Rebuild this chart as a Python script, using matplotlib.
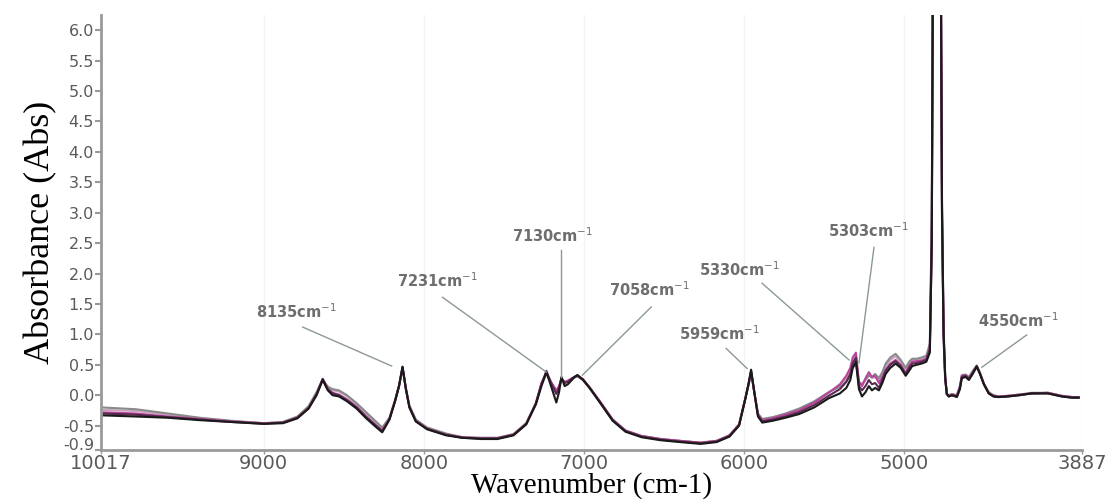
import matplotlib
matplotlib.use("Agg")
import matplotlib.pyplot as plt
import matplotlib.transforms as mtransforms

# wavenumber grid (cm-1)
wavenumber = [
    10017, 9800, 9600, 9400, 9200, 9000, 8880, 8790, 8720, 8670,
    8632, 8600, 8570, 8530, 8480, 8420, 8360, 8300, 8260, 8215,
    8180, 8155, 8133, 8112, 8090, 8050, 7980, 7860, 7760, 7640,
    7540, 7440, 7360, 7300, 7265, 7234, 7205, 7172, 7155, 7140,
    7120, 7100, 7075, 7059, 7040, 7005, 6965, 6900, 6820, 6740,
    6640, 6520, 6400, 6270, 6170, 6090, 6030, 5990, 5970, 5955,
    5935, 5912, 5885, 5820, 5740, 5655, 5560, 5470, 5400, 5360,
    5335, 5320, 5300, 5281, 5262, 5240, 5219, 5200, 5180, 5156,
    5135, 5114, 5085, 5052, 5020, 4989, 4968, 4948, 4920, 4890,
    4860, 4838, 4826, 4818, 4770, 4762, 4752, 4742, 4732, 4720,
    4700, 4669, 4650, 4638, 4615, 4594, 4570, 4545, 4525, 4500,
    4470, 4440, 4407, 4350, 4280, 4201, 4100, 4014, 3950, 3908,
]

abs_black = [
    -0.33, -0.35, -0.37, -0.41, -0.44, -0.47, -0.46, -0.38, -0.22, 0.00,
    0.25, 0.08, 0.00, -0.02, -0.10, -0.22, -0.38, -0.52, -0.61, -0.40,
    -0.10, 0.15, 0.47, 0.10, -0.20, -0.43, -0.56, -0.66, -0.70, -0.72,
    -0.72, -0.66, -0.48, -0.15, 0.15, 0.38, 0.15, -0.12, 0.05, 0.30,
    0.15, 0.18, 0.25, 0.30, 0.33, 0.25, 0.12, -0.12, -0.42, -0.60,
    -0.69, -0.74, -0.77, -0.80, -0.77, -0.68, -0.50, -0.05, 0.20, 0.42,
    0.05, -0.35, -0.45, -0.42, -0.37, -0.31, -0.20, -0.05, 0.03, 0.12,
    0.25, 0.45, 0.55, 0.10, -0.02, 0.05, 0.15, 0.08, 0.12, 0.08,
    0.20, 0.35, 0.45, 0.52, 0.45, 0.32, 0.40, 0.48, 0.50, 0.52,
    0.55, 0.70, 2.50, 7.50, 7.50, 3.00, 1.00, 0.30, 0.02, -0.02,
    0.00, -0.03, 0.10, 0.28, 0.30, 0.25, 0.35, 0.47, 0.35, 0.18,
    0.03, -0.02, -0.03, -0.02, 0.00, 0.03, 0.03, -0.02, -0.04, -0.04,
]

abs_plum = [
    -0.30, -0.32, -0.36, -0.40, -0.44, -0.47, -0.45, -0.37, -0.21, 0.02,
    0.27, 0.10, 0.03, 0.00, -0.08, -0.20, -0.36, -0.50, -0.59, -0.40,
    -0.10, 0.15, 0.46, 0.10, -0.20, -0.43, -0.55, -0.65, -0.70, -0.71,
    -0.71, -0.65, -0.47, -0.14, 0.18, 0.40, 0.20, 0.02, 0.12, 0.28,
    0.20, 0.22, 0.27, 0.30, 0.33, 0.26, 0.13, -0.11, -0.41, -0.59,
    -0.68, -0.73, -0.76, -0.79, -0.76, -0.67, -0.49, -0.04, 0.20, 0.40,
    0.05, -0.33, -0.43, -0.40, -0.35, -0.28, -0.16, -0.01, 0.10, 0.22,
    0.35, 0.52, 0.62, 0.15, 0.08, 0.15, 0.25, 0.18, 0.20, 0.12,
    0.25, 0.40, 0.50, 0.56, 0.48, 0.35, 0.45, 0.52, 0.53, 0.55,
    0.58, 0.75, 2.60, 7.50, 7.50, 3.20, 1.10, 0.30, 0.02, -0.02,
    0.00, -0.02, 0.12, 0.30, 0.32, 0.27, 0.37, 0.48, 0.36, 0.18,
    0.03, -0.02, -0.03, -0.02, 0.00, 0.03, 0.03, -0.02, -0.04, -0.04,
]

abs_magenta = [
    -0.28, -0.30, -0.35, -0.39, -0.43, -0.46, -0.45, -0.37, -0.21, 0.02,
    0.26, 0.10, 0.04, 0.01, -0.07, -0.19, -0.35, -0.49, -0.58, -0.39,
    -0.09, 0.15, 0.45, 0.10, -0.19, -0.42, -0.55, -0.65, -0.69, -0.71,
    -0.71, -0.65, -0.47, -0.13, 0.20, 0.36, 0.22, 0.08, 0.15, 0.27,
    0.22, 0.24, 0.28, 0.30, 0.32, 0.26, 0.13, -0.10, -0.40, -0.58,
    -0.67, -0.72, -0.75, -0.78, -0.75, -0.66, -0.48, -0.04, 0.18, 0.38,
    0.05, -0.32, -0.41, -0.38, -0.32, -0.25, -0.12, 0.04, 0.18, 0.32,
    0.45, 0.62, 0.70, 0.22, 0.15, 0.28, 0.38, 0.30, 0.32, 0.20,
    0.30, 0.42, 0.52, 0.58, 0.50, 0.36, 0.48, 0.55, 0.56, 0.57,
    0.60, 0.78, 2.40, 7.50, 7.50, 3.10, 1.00, 0.28, 0.02, -0.01,
    0.01, -0.01, 0.14, 0.32, 0.33, 0.28, 0.37, 0.47, 0.36, 0.18,
    0.04, -0.01, -0.02, -0.01, 0.01, 0.03, 0.04, -0.01, -0.03, -0.03,
]

abs_gray = [
    -0.20, -0.23, -0.30, -0.37, -0.42, -0.46, -0.44, -0.35, -0.18, 0.05,
    0.26, 0.14, 0.10, 0.08, 0.00, -0.13, -0.28, -0.43, -0.53, -0.37,
    -0.08, 0.16, 0.45, 0.12, -0.17, -0.40, -0.53, -0.63, -0.69, -0.70,
    -0.70, -0.64, -0.46, -0.14, 0.18, 0.36, 0.20, 0.06, 0.14, 0.27,
    0.21, 0.23, 0.27, 0.29, 0.31, 0.25, 0.13, -0.10, -0.40, -0.58,
    -0.67, -0.72, -0.75, -0.78, -0.75, -0.66, -0.48, -0.05, 0.18, 0.38,
    0.06, -0.30, -0.39, -0.36, -0.30, -0.22, -0.10, 0.05, 0.14, 0.22,
    0.32, 0.45, 0.52, 0.22, 0.18, 0.25, 0.32, 0.30, 0.35, 0.28,
    0.38, 0.52, 0.62, 0.68, 0.58, 0.45, 0.55, 0.60, 0.60, 0.62,
    0.65, 0.85, 3.00, 7.50, 7.50, 2.80, 0.90, 0.25, 0.02, 0.00,
    0.02, 0.00, 0.15, 0.33, 0.34, 0.30, 0.40, 0.49, 0.37, 0.19,
    0.05, 0.00, -0.02, -0.01, 0.01, 0.04, 0.04, -0.01, -0.03, -0.03,
]

abs_light = [
    -0.24, -0.26, -0.32, -0.38, -0.43, -0.46, -0.44, -0.36, -0.19, 0.04,
    0.26, 0.13, 0.08, 0.06, -0.02, -0.15, -0.31, -0.46, -0.55, -0.38,
    -0.09, 0.15, 0.46, 0.11, -0.18, -0.41, -0.54, -0.64, -0.69, -0.70,
    -0.70, -0.64, -0.46, -0.13, 0.19, 0.37, 0.21, 0.05, 0.13, 0.28,
    0.20, 0.22, 0.27, 0.29, 0.32, 0.25, 0.13, -0.10, -0.40, -0.58,
    -0.67, -0.72, -0.75, -0.78, -0.75, -0.66, -0.48, -0.04, 0.19, 0.39,
    0.05, -0.31, -0.40, -0.37, -0.31, -0.23, -0.11, 0.05, 0.16, 0.27,
    0.40, 0.56, 0.64, 0.20, 0.16, 0.26, 0.35, 0.28, 0.30, 0.24,
    0.34, 0.48, 0.58, 0.64, 0.55, 0.42, 0.52, 0.58, 0.58, 0.60,
    0.62, 0.80, 2.80, 7.50, 7.50, 2.90, 0.95, 0.27, 0.02, 0.00,
    0.02, 0.00, 0.14, 0.32, 0.33, 0.29, 0.38, 0.48, 0.36, 0.18,
    0.04, -0.01, -0.02, -0.01, 0.01, 0.03, 0.04, -0.01, -0.03, -0.03,
]

x_ticks = [10017, 9000, 8000, 7000, 6000, 5000, 3887]
y_ticks = [-0.9, -0.5, 0.0, 0.5, 1.0, 1.5, 2.0, 2.5, 3.0, 3.5, 4.0, 4.5, 5.0, 5.5, 6.0]

peak_labels = ["8135", "7231", "7130", "7058", "5959", "5330", "5303", "4550"]
# (text x, text y, line start x, line start y, line end x, line end y) in data units
label_layout = [
    (8794, 1.38, 8757, 1.12, 8201, 0.48),
    (7914, 1.89, 7883, 1.61, 7234, 0.38),
    (7196, 2.63, 7140, 2.38, 7140, 0.30),
    (6591, 1.74, 6579, 1.45, 7009, 0.33),
    (6154, 1.02, 6111, 0.77, 5980, 0.44),
    (6030, 2.06, 5886, 1.84, 5343, 0.58),
    (5219, 2.71, 5187, 2.43, 5281, 0.53),
    (4282, 1.23, 4233, 0.99, 4513, 0.46),
]

fig = plt.figure(figsize=(11.14, 5.03), dpi=100)
ax = fig.add_axes([0.0907, 0.1054, 0.8806, 0.8648])

ax.grid(axis="x", color="#f3f3f3", lw=1)
ax.set_axisbelow(True)

series = [
    (abs_light, "#c9a3bf"),
    (abs_gray, "#8a8a8a"),
    (abs_magenta, "#b8449c"),
    (abs_plum, "#5b2a50"),
    (abs_black, "#1a1a1a"),
]
for vals, col in series:
    ax.plot(wavenumber, vals, color=col, lw=1.5, solid_joinstyle="round")

for lab, (tx, ty, sx, sy, ex, ey) in zip(peak_labels, label_layout):
    ax.plot([sx, ex], [sy, ey], color="#8c9898", lw=1)
    ax.text(tx, ty, lab + "cm$^{-1}$", ha="center", va="center",
            fontsize=10.5, fontweight="bold", color="#6e6e6e")

ax.set_xlim(10017, 3887)
ax.set_ylim(-0.9, 6.25)
ax.set_xticks(x_ticks)
ax.set_xticklabels([str(v) for v in x_ticks])
ax.set_yticks(y_ticks)
ax.set_yticklabels(["%.1f" % v for v in y_ticks])

for s in ["top", "right"]:
    ax.spines[s].set_visible(False)
for s in ["left", "bottom"]:
    ax.spines[s].set_color("#9a9a9a")
    ax.spines[s].set_linewidth(2)

ax.tick_params(axis="y", length=4, width=1.5, color="#9a9a9a",
               labelsize=11.5, labelcolor="#5a5a5a", pad=1)
ax.tick_params(axis="x", length=3, width=1, color="#9a9a9a",
               labelsize=14, labelcolor="#5a5a5a", pad=0)

# lift the bottom y label a little so it does not sit on top of "10017"
bottom_lbl = ax.get_yticklabels()[0]
bottom_lbl.set_transform(bottom_lbl.get_transform() +
                         mtransforms.ScaledTranslation(0, 4 / 72, fig.dpi_scale_trans))

ax.set_ylabel("Absorbance (Abs)", family="Liberation Serif", fontsize=26, labelpad=4)
ax.set_xlabel("Wavenumber (cm-1)", family="Liberation Serif", fontsize=21, labelpad=-1)

fig.savefig("out.png", dpi=100)
